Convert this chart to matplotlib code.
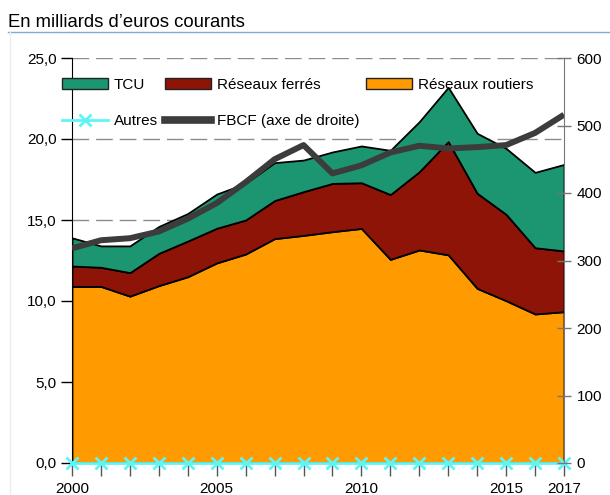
"""
Investissements en infrastructures de transport : stacked areas + FBCF line.
"""

import matplotlib

matplotlib.use("Agg")
import matplotlib.pyplot as plt
from matplotlib.lines import Line2D
from matplotlib.patches import Patch
from matplotlib.ticker import FuncFormatter

plt.rcParams["font.family"] = ["Liberation Sans", "DejaVu Sans"]

years = list(range(2000, 2018))
top_routier = [10.9, 10.9, 10.3, 10.95, 11.5, 12.35, 12.9, 13.85, 14.05, 14.28,
               14.48, 12.57, 13.15, 12.85, 10.78, 10.02, 9.2, 9.34]
top_ferre = [12.16, 12.08, 11.75, 12.94, 13.7, 14.49, 15.0, 16.2, 16.75, 17.26,
             17.3, 16.57, 17.98, 19.84, 16.65, 15.35, 13.29, 13.09]
top_tcu = [13.9, 13.4, 13.4, 14.6, 15.4, 16.6, 17.26, 18.54, 18.7, 19.2,
           19.57, 19.3, 21.07, 23.19, 20.35, 19.42, 17.94, 18.43]
autres = [0.0] * 18
fbcf = [318, 330, 333, 343, 362, 385, 416, 450, 471, 429,
        441, 460, 470, 466, 468, 471, 489, 516]

routier = top_routier
ferre = [b - a for a, b in zip(top_routier, top_ferre)]
tcu = [b - a for a, b in zip(top_ferre, top_tcu)]

C_TCU = "#1b9670"
C_FERRE = "#8f1408"
C_ROUTIER = "#ff9a00"
C_AUTRES = "#5ff5f5"
C_FBCF = "#3c3c3c"

W, H = 610, 495
fig = plt.figure(figsize=(W / 100, H / 100), dpi=100)
ax = fig.add_axes([72 / W, 1 - 463 / H, (564 - 72) / W, (463 - 58) / H])
ax2 = ax.twinx()

ax.set_axisbelow(True)
ax.yaxis.grid(True, color="#8c8c8c", linestyle=(0, (12, 5)), linewidth=1.0)
ax.stackplot(years, routier, ferre, tcu, colors=[C_ROUTIER, C_FERRE, C_TCU],
             edgecolor="black", linewidth=1.3, zorder=2)
ax.plot(years, autres, color=C_AUTRES, linewidth=2, marker="x",
        markersize=8, markeredgewidth=2, zorder=4, clip_on=False)

ax2.plot(years, fbcf, color=C_FBCF, linewidth=4.3, solid_capstyle="butt")

ax.set_xlim(2000, 2017)
ax.set_ylim(0, 25)
ax2.set_ylim(0, 600)
ax.set_yticks([0, 5, 10, 15, 20, 25])
ax.yaxis.set_major_formatter(FuncFormatter(lambda v, p: f"{v:.1f}".replace(".", ",")))
ax2.set_yticks([0, 100, 200, 300, 400, 500, 600])
ax.set_xticks(years)
ax.set_xticklabels([str(y) if y in (2000, 2005, 2010, 2015, 2017) else "" for y in years])

ax.tick_params(axis="y", direction="out", length=8, width=1, labelsize=11, pad=3)
ax.tick_params(axis="x", direction="out", length=9, width=1, labelsize=11,
               pad=5, color="#555555")
ax2.tick_params(axis="y", direction="inout", length=10, width=1, labelsize=11,
                pad=4, color="#777777")

for a in (ax, ax2):
    a.spines["top"].set_visible(False)
ax.spines["left"].set_color("black")
ax.spines["right"].set_visible(False)
ax2.spines["left"].set_visible(False)
ax2.spines["bottom"].set_visible(False)
ax2.spines["right"].set_color("#777777")
ax.spines["bottom"].set_color("#555555")
ax.patch.set_visible(False)

handles = [
    Patch(facecolor=C_TCU, edgecolor="#222222", linewidth=1),
    Line2D([], [], color=C_AUTRES, linewidth=2, marker="x", markersize=8,
           markeredgewidth=2),
    Patch(facecolor=C_FERRE, edgecolor="#222222", linewidth=1),
    Line2D([], [], color=C_FBCF, linewidth=5.5),
    Patch(facecolor=C_ROUTIER, edgecolor="#222222", linewidth=1),
]
labels = ["TCU", "Autres", "Réseaux ferrés", "FBCF (axe de droite)", "Réseaux routiers"]
ax2.legend(handles, labels, ncol=3, loc="upper left",
           bbox_to_anchor=(62 / W, 1 - 78 / H), bbox_transform=fig.transFigure,
           frameon=False, fontsize=11, handlelength=3.0, handletextpad=0.4,
           columnspacing=0.45, labelspacing=1.45, borderpad=0, borderaxespad=0)

fig.text(8 / W, 1 - 27 / H, "En milliards d\u2019euros courants", fontsize=13.3,
         va="baseline", ha="left")
fig.add_artist(Line2D([8 / W, 1], [1 - 32 / H, 1 - 32 / H], color="#7fa8d8",
                      linewidth=1, transform=fig.transFigure))
fig.add_artist(Line2D([10 / W, 10 / W], [0, 1 - 32 / H], color="#ececec",
                      linewidth=1, transform=fig.transFigure))

fig.savefig("out.png", dpi=100)
